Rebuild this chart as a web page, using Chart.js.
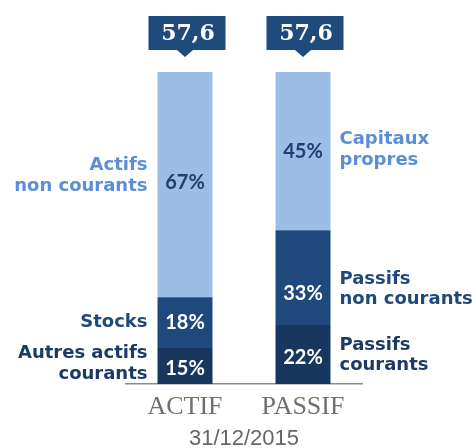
<!DOCTYPE html>
<html>
<head>
<meta charset="utf-8">
<script src="https://cdn.jsdelivr.net/npm/chart.js@4/dist/chart.umd.min.js"></script>
<style>
  html, body { margin: 0; padding: 0; background: #ffffff; }
  #wrap { width: 476px; height: 448px; }
</style>
</head>
<body>
<div id="wrap"><canvas id="c" width="476" height="448"></canvas></div>
<script>
// ---- data ----
const categories = ['ACTIF', 'PASSIF'];
const dateLabel = '31/12/2015';
const totals = [57.6, 57.6];
// segment heights as drawn (share of the bar)
const shareCourants = [11.5, 18.9];
const shareMid = [16.3, 30.4];
const shareTop = [72.2, 50.7];
// percentages printed in the bars
const pctCourants = [15, 22];
const pctMid = [18, 33];
const pctTop = [67, 45];
// segment names
const namesActif = [['Autres actifs', 'courants'], ['Stocks'], ['Actifs', 'non courants']];
const namesPassif = [['Passifs', 'courants'], ['Passifs', 'non courants'], ['Capitaux', 'propres']];

const segColors = ['#17375e', '#1f497d', '#9bbde6'];
const pctColors = ['#ffffff', '#ffffff', '#1f3f6e'];
const nameColors = ['#1b3a66', '#1f497d', '#5b8ed6'];
const pctLists = [pctCourants, pctMid, pctTop];
// small vertical nudges (px) for text, per [dataset][bar]
const pctNudge = [[3, 3], [0, 16], [-2, 0]];
const nameNudge = [[-2, 1], [0, 12], [-9, -1]];

const labelPlugin = {
  id: 'segLabels',
  afterDatasetsDraw(chart) {
    const ctx = chart.ctx;
    ctx.save();
    chart.data.datasets.forEach((ds, di) => {
      const meta = chart.getDatasetMeta(di);
      meta.data.forEach((el, j) => {
        const cy = (el.y + el.base) / 2;
        // percentage in bar
        ctx.font = 'bold 20px Lato';
        ctx.fillStyle = pctColors[di];
        ctx.textAlign = 'center';
        ctx.textBaseline = 'middle';
        ctx.fillText(pctLists[di][j] + '%', el.x, cy + pctNudge[di][j]);
        // side names
        const lines = (j === 0 ? namesActif : namesPassif)[di];
        const lh = 20.5;
        ctx.font = 'bold 18px "DejaVu Sans"';
        ctx.fillStyle = nameColors[di];
        let tx;
        if (j === 0) { ctx.textAlign = 'right'; tx = el.x - el.width / 2 - 10; }
        else { ctx.textAlign = 'left'; tx = el.x + el.width / 2 + 9; }
        const y0 = cy + nameNudge[di][j] - (lines.length - 1) * lh / 2;
        lines.forEach((t, k) => ctx.fillText(t, tx, y0 + k * lh));
      });
    });
    // total boxes above bars
    const last = chart.getDatasetMeta(chart.data.datasets.length - 1);
    last.data.forEach((el, j) => {
      const bw = 77, bh = 34;
      const bottom = el.y - 22;
      const cx = el.x + 2;
      ctx.fillStyle = '#1f4a7c';
      ctx.fillRect(cx - bw / 2, bottom - bh, bw, bh);
      ctx.beginPath();
      ctx.moveTo(el.x - 8, bottom);
      ctx.lineTo(el.x + 8, bottom);
      ctx.lineTo(el.x, bottom + 7);
      ctx.closePath();
      ctx.fill();
      ctx.fillStyle = '#ffffff';
      ctx.font = 'bold 22px "DejaVu Serif"';
      ctx.textAlign = 'center';
      ctx.textBaseline = 'middle';
      ctx.fillText(totals[j].toFixed(1).replace('.', ','), cx + 1, bottom - bh / 2 + 1);
    });
    ctx.restore();
  }
};

new Chart(document.getElementById('c'), {
  type: 'bar',
  data: {
    labels: categories,
    datasets: [
      { data: shareCourants, backgroundColor: segColors[0] },
      { data: shareMid, backgroundColor: segColors[1] },
      { data: shareTop, backgroundColor: segColors[2] }
    ]
  },
  options: {
    responsive: false,
    animation: false,
    events: [],
    layout: { padding: { left: 126, right: 114, top: 72, bottom: 0 } },
    datasets: { bar: { barPercentage: 0.466, categoryPercentage: 1, borderWidth: 0 } },
    plugins: { legend: { display: false }, tooltip: { enabled: false } },
    scales: {
      x: {
        stacked: true,
        grid: { display: false, drawTicks: false },
        border: { display: true, color: '#8c8c8c', width: 1.5 },
        ticks: { color: '#6f6f6f', padding: 10, font: { family: 'Liberation Serif', size: 26, lineHeight: 1 } },
        title: { display: true, text: dateLabel, color: '#666666', padding: { top: 2, bottom: 2 },
                 font: { family: 'Liberation Sans', size: 22, lineHeight: 0.64 } }
      },
      y: { stacked: true, display: false, min: 0, max: 100 }
    }
  },
  plugins: [labelPlugin]
});
</script>
</body>
</html>
